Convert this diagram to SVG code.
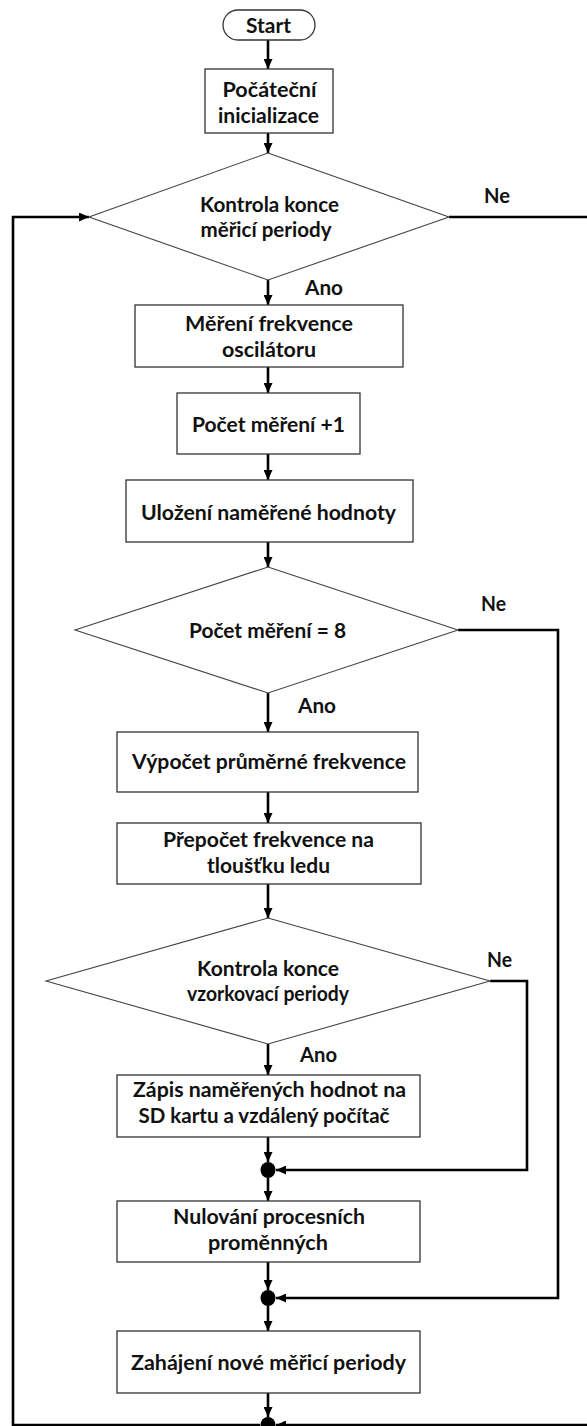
<svg xmlns="http://www.w3.org/2000/svg" width="587" height="1426" viewBox="0 0 587 1426">
<style>
.shape{fill:#fff;stroke:#333;stroke-width:1.3}
.dia{fill:#fff;stroke:#444;stroke-width:1.1}
.t{font-family:Lato,"Open Sans","Liberation Sans",sans-serif;font-weight:700;font-size:21px;fill:#111;text-anchor:middle}
.c{fill:none;stroke:#000;stroke-width:2.6}
.dot{fill:#000}
</style>
<defs>
<marker id="ah" markerUnits="userSpaceOnUse" markerWidth="10" markerHeight="9" refX="10" refY="4.5" orient="auto">
<path d="M0,0 L10,4.5 L0,9 z" fill="#000"/>
</marker>
</defs>
<rect width="587" height="1426" fill="#fff"/>

<g id="connectors">
<line class="c" x1="268" y1="40" x2="268" y2="69" marker-end="url(#ah)"/>
<line class="c" x1="268" y1="133" x2="268" y2="153" marker-end="url(#ah)"/>
<line class="c" x1="268" y1="280" x2="268" y2="305" marker-end="url(#ah)"/>
<line class="c" x1="268" y1="367" x2="268" y2="393" marker-end="url(#ah)"/>
<line class="c" x1="268" y1="454" x2="268" y2="480" marker-end="url(#ah)"/>
<line class="c" x1="268" y1="542" x2="268" y2="567" marker-end="url(#ah)"/>
<line class="c" x1="268" y1="693" x2="268" y2="732" marker-end="url(#ah)"/>
<line class="c" x1="268" y1="792" x2="268" y2="823" marker-end="url(#ah)"/>
<line class="c" x1="268" y1="884" x2="268" y2="918" marker-end="url(#ah)"/>
<line class="c" x1="268" y1="1044" x2="268" y2="1075" marker-end="url(#ah)"/>
<line class="c" x1="268" y1="1137" x2="268" y2="1162" marker-end="url(#ah)"/>
<line class="c" x1="268" y1="1178" x2="268" y2="1201" marker-end="url(#ah)"/>
<line class="c" x1="268" y1="1262" x2="268" y2="1290" marker-end="url(#ah)"/>
<line class="c" x1="268" y1="1306" x2="268" y2="1331" marker-end="url(#ah)"/>
<line class="c" x1="268" y1="1393" x2="268" y2="1417" marker-end="url(#ah)"/>
<polyline class="c" points="449,217 600,217"/>
<polyline class="c" points="458,630 558,630 558,1298 276,1298" marker-end="url(#ah)"/>
<polyline class="c" points="490,981 527,981 527,1170 276,1170" marker-end="url(#ah)"/>
<polyline class="c" points="260,1425 13,1425 13,217 89,217" marker-end="url(#ah)"/>
<polyline class="c" points="600,1425 276,1425" marker-end="url(#ah)"/>
</g>

<g id="start">
<rect class="shape" x="223" y="10" width="92" height="30" rx="15"/>
<text class="t" x="268.5" y="33" textLength="45" lengthAdjust="spacingAndGlyphs">Start</text>
</g>
<g id="init">
<rect class="shape" x="205" y="69" width="128" height="64"/>
<text class="t" x="269.5" y="96.5" textLength="94" lengthAdjust="spacingAndGlyphs">Počáteční</text>
<text class="t" x="268.5" y="122.5" textLength="101" lengthAdjust="spacingAndGlyphs">inicializace</text>
</g>
<g id="check-period">
<polygon class="dia" points="268,153 449,217 268,280 89,217"/>
<text class="t" x="269.5" y="211.5" textLength="139" lengthAdjust="spacingAndGlyphs">Kontrola konce</text>
<text class="t" x="266" y="236.5" textLength="131" lengthAdjust="spacingAndGlyphs">měřicí periody</text>
<text class="t" x="497" y="203" textLength="26" lengthAdjust="spacingAndGlyphs">Ne</text>
<text class="t" x="324" y="295" textLength="38" lengthAdjust="spacingAndGlyphs">Ano</text>
</g>
<g id="measure">
<rect class="shape" x="135" y="305" width="268" height="62"/>
<text class="t" x="269" y="330.5" textLength="168" lengthAdjust="spacingAndGlyphs">Měření frekvence</text>
<text class="t" x="269" y="357" textLength="94" lengthAdjust="spacingAndGlyphs">oscilátoru</text>
</g>
<g id="count">
<rect class="shape" x="177" y="393" width="183" height="61"/>
<text class="t" x="268.5" y="431.5" textLength="153" lengthAdjust="spacingAndGlyphs">Počet měření +1</text>
</g>
<g id="store">
<rect class="shape" x="126" y="480" width="287" height="62"/>
<text class="t" x="268.5" y="519.5" textLength="255" lengthAdjust="spacingAndGlyphs">Uložení naměřené hodnoty</text>
</g>
<g id="check-count">
<polygon class="dia" points="268,567 458,630 268,693 75,630"/>
<text class="t" x="267.5" y="638" textLength="157" lengthAdjust="spacingAndGlyphs">Počet měření = 8</text>
<text class="t" x="493.5" y="610.5" textLength="25" lengthAdjust="spacingAndGlyphs">Ne</text>
<text class="t" x="317" y="712.5" textLength="38" lengthAdjust="spacingAndGlyphs">Ano</text>
</g>
<g id="average">
<rect class="shape" x="117" y="732" width="301" height="60"/>
<text class="t" x="269" y="769" textLength="274" lengthAdjust="spacingAndGlyphs">Výpočet průměrné frekvence</text>
</g>
<g id="convert">
<rect class="shape" x="117" y="823" width="304" height="61"/>
<text class="t" x="268.5" y="846.5" textLength="211" lengthAdjust="spacingAndGlyphs">Přepočet frekvence na</text>
<text class="t" x="268.5" y="872.5" textLength="123" lengthAdjust="spacingAndGlyphs">tloušťku ledu</text>
</g>
<g id="check-sample">
<polygon class="dia" points="268,918 490,981 268,1044 46,981"/>
<text class="t" x="268" y="976" textLength="142" lengthAdjust="spacingAndGlyphs">Kontrola konce</text>
<text class="t" x="268" y="1001" textLength="162" lengthAdjust="spacingAndGlyphs">vzorkovací periody</text>
<text class="t" x="499.5" y="967" textLength="25" lengthAdjust="spacingAndGlyphs">Ne</text>
<text class="t" x="318.5" y="1062" textLength="37" lengthAdjust="spacingAndGlyphs">Ano</text>
</g>
<g id="write">
<rect class="shape" x="117" y="1075" width="303" height="62"/>
<text class="t" x="269.5" y="1096.5" textLength="273" lengthAdjust="spacingAndGlyphs">Zápis naměřených hodnot na</text>
<text class="t" x="264" y="1122.5" textLength="251" lengthAdjust="spacingAndGlyphs">SD kartu a vzdálený počítač</text>
</g>
<g id="join1"><ellipse class="dot" cx="268" cy="1170" rx="7.5" ry="8"/></g>
<g id="reset">
<rect class="shape" x="117" y="1201" width="303" height="61"/>
<text class="t" x="269" y="1224" textLength="192" lengthAdjust="spacingAndGlyphs">Nulování procesních</text>
<text class="t" x="268" y="1250" textLength="120" lengthAdjust="spacingAndGlyphs">proměnných</text>
</g>
<g id="join2"><ellipse class="dot" cx="268" cy="1298" rx="7.5" ry="8"/></g>
<g id="new-period">
<rect class="shape" x="117" y="1331" width="303" height="62"/>
<text class="t" x="268.5" y="1370" textLength="275" lengthAdjust="spacingAndGlyphs">Zahájení nové měřicí periody</text>
</g>
<g id="join3"><ellipse class="dot" cx="268" cy="1425" rx="7.5" ry="8"/></g>
</svg>
